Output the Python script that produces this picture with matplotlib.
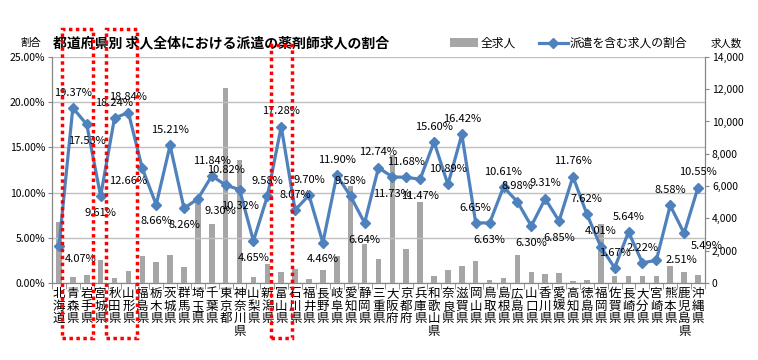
import numpy as np
import matplotlib.pyplot as plt
from matplotlib.patches import Rectangle
from matplotlib.transforms import blended_transform_factory
from matplotlib.ticker import FuncFormatter

plt.rcParams['font.family'] = ['Noto Sans CJK JP', 'DejaVu Sans']

prefs = ["北海道", "青森県", "岩手県", "宮城県", "秋田県", "山形県", "福島県", "栃木県",
         "茨城県", "群馬県", "埼玉県", "千葉県", "東京都", "神奈川県", "山梨県", "新潟県",
         "富山県", "石川県", "福井県", "長野県", "岐阜県", "愛知県", "静岡県", "三重県",
         "大阪府", "京都府", "兵庫県", "和歌山県", "奈良県", "滋賀県", "岡山県", "鳥取県",
         "島根県", "広島県", "山口県", "香川県", "愛媛県", "高知県", "徳島県", "福岡県",
         "佐賀県", "長崎県", "大分県", "宮崎県", "熊本県", "鹿児島県", "沖縄県"]

# share of dispatch jobs (%)
ratio = [4.07, 19.37, 17.53, 9.61, 18.24, 18.84, 12.66, 8.66, 15.21, 8.26,
         9.30, 11.84, 10.82, 10.32, 4.65, 9.58, 17.28, 8.07, 9.70, 4.46,
         11.90, 9.58, 6.64, 12.74, 11.73, 11.68, 11.47, 15.60, 10.89, 16.42,
         6.65, 6.63, 10.61, 8.98, 6.30, 9.31, 6.85, 11.76, 7.62, 4.01,
         1.67, 5.64, 2.22, 2.51, 8.58, 5.49, 10.55]

# all job offers (count)
jobs = [3750, 370, 520, 1440, 330, 760, 1650, 1280, 1750, 1010,
        5100, 3650, 12060, 7620, 370, 1180, 690, 840, 270, 830,
        1690, 6030, 2430, 1510, 7950, 2130, 5000, 450, 830, 1070,
        1340, 190, 290, 1710, 660, 540, 600, 100, 165, 3680,
        410, 410, 410, 410, 1030, 660, 470]

# where each data label sits: a=above, b=below, r=right, rb=right-below, lb=left-below
label_pos = ["rb", "a", "b", "b", "a", "a", "lb", "b", "a", "b",
             "rb", "a", "a", "b", "b", "a", "a", "a", "a", "b",
             "a", "a", "b", "a", "b", "a", "b", "a", "a", "a",
             "a", "b", "a", "a", "b", "a", "b", "a", "a", "a",
             "a", "a", "a", "r", "a", "rb", "a"]

# red dotted highlight boxes (category index range)
boxes = [(0.22, 2.43, 0.92), (3.38, 5.59, 0.92), (15.3, 16.8, 0.875)]

offsets = {"a": (0, 11), "b": (0, -12), "r": (18, 0), "rb": (16, -9), "lb": (-10, -9)}

fig = plt.figure(figsize=(7.58, 3.6), dpi=100)
ax = fig.add_axes([0.0686, 0.214, 0.8614, 0.628])
x = np.arange(len(prefs))

# bars on the count axis (shown on the right)
ax.bar(x, jobs, width=0.4, color="#a6a6a6", label="全求人", zorder=2)
ax.set_ylim(0, 14000)
ax.set_xlim(-0.5, len(prefs) - 0.5)
ax.set_yticks(np.arange(0, 14001, 2000))
ax.yaxis.set_major_formatter(FuncFormatter(lambda v, p: f"{int(v):,}"))

ax2 = ax.twinx()
ax.yaxis.tick_right()
ax2.yaxis.tick_left()
ax2.set_ylim(0, 25)
ax2.set_yticks(np.arange(0, 25.01, 5))
ax2.yaxis.set_major_formatter(FuncFormatter(lambda v, p: f"{v:.2f}%"))
ax2.grid(axis="y", color="#c0c0c0", linewidth=1)
ax2.set_axisbelow(True)
ax2.plot(x, ratio, color="#4f81bd", linewidth=2.3, marker="D", markersize=5.5,
         label="派遣を含む求人の割合", zorder=3)

for i, v in enumerate(ratio):
    dx, dy = offsets[label_pos[i]]
    ax2.annotate(f"{v:.2f}%", (i, v), xytext=(dx, dy), textcoords="offset points",
                 ha="center", va="center", fontsize=8, color="#000000")

for a in (ax, ax2):
    for s in a.spines.values():
        s.set_color("#868686")
    a.spines["top"].set_visible(False)
    a.tick_params(axis="y", labelsize=7.5, length=3, color="#868686", pad=2)

ax.set_xticks(np.arange(-0.5, len(prefs), 1), minor=True)
ax.set_xticks(x)
ax.set_xticklabels(["\n".join(p) for p in prefs], fontsize=9, linespacing=0.95, va="top")
ax.tick_params(axis="x", which="major", length=0, pad=3)
ax.tick_params(axis="x", which="minor", length=4, color="#868686")

# highlight boxes
trans = blended_transform_factory(ax.transData, fig.transFigure)
for x0, x1, top in boxes:
    fig.add_artist(Rectangle((x0, 0.06), x1 - x0, top - 0.06, transform=trans,
                             fill=False, edgecolor="#ff0000", linestyle=(0, (1, 1)),
                             linewidth=2.5, clip_on=False, zorder=5))

fig.text(0.07, 0.88, "都道府県別 求人全体における派遣の薬剤師求人の割合",
         fontsize=10, fontweight="bold", va="center")
fig.text(0.04, 0.88, "割合", fontsize=7.5, ha="center", va="center")
fig.text(0.958, 0.878, "求人数", fontsize=7.5, ha="center", va="center")

h1, l1 = ax.get_legend_handles_labels()
h2, l2 = ax2.get_legend_handles_labels()
fig.legend(h1 + h2, l1 + l2, loc="center", bbox_to_anchor=(0.75, 0.88), ncol=2,
           frameon=False, fontsize=8.5, handlelength=2.4, columnspacing=2.0,
           handletextpad=0.2)

fig.savefig("out.png", dpi=100)
